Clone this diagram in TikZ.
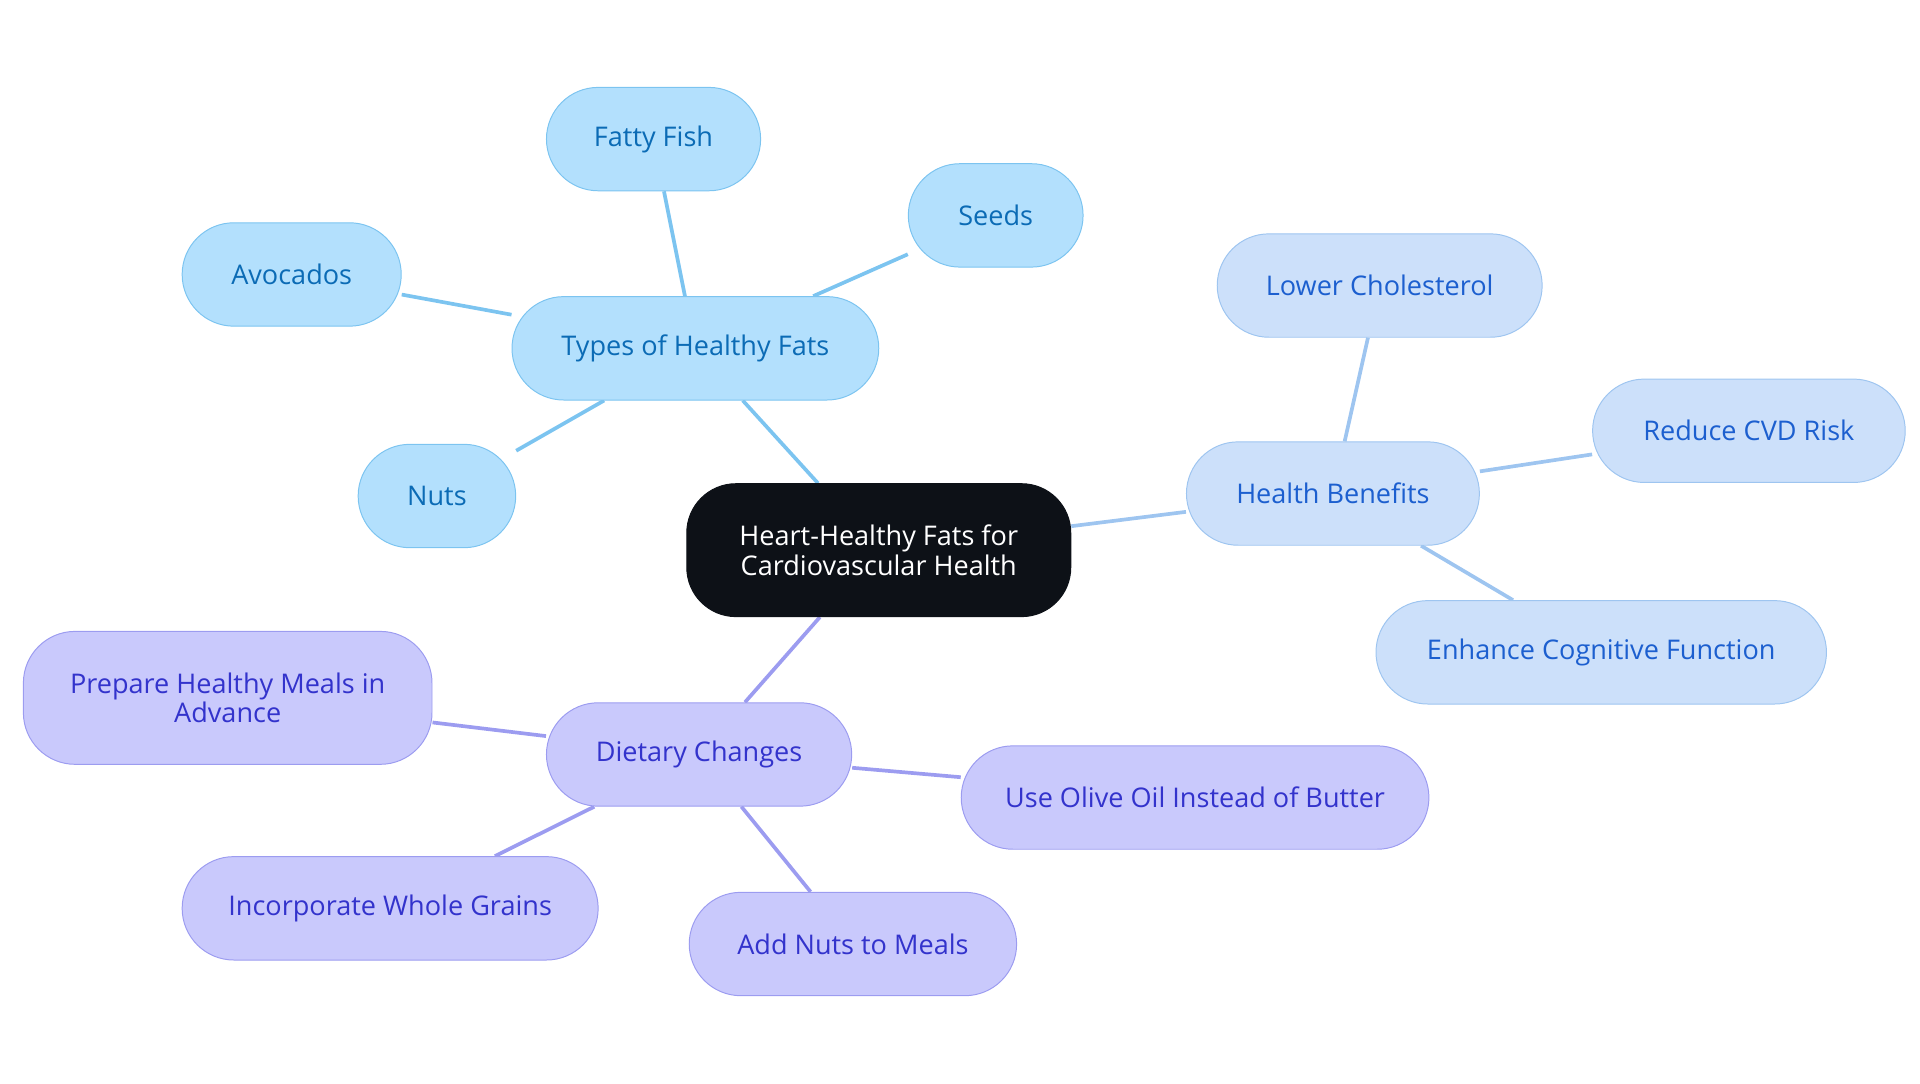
\documentclass[tikz,border=0pt]{standalone}
\usepackage{fontspec}
\setmainfont{Open Sans}
\usetikzlibrary{backgrounds}
\definecolor{rootfill}{HTML}{0D1117}
\definecolor{bluefill}{HTML}{B3E0FD}
\definecolor{bluedraw}{HTML}{7CC4F0}
\definecolor{bluetext}{HTML}{0B6BB5}
\definecolor{skyfill}{HTML}{CCE0FA}
\definecolor{skydraw}{HTML}{9EC5F0}
\definecolor{skytext}{HTML}{1C5FCF}
\definecolor{purpfill}{HTML}{C9C9FC}
\definecolor{purpdraw}{HTML}{9C9CF0}
\definecolor{purptext}{HTML}{3333CC}
\begin{document}
\begin{tikzpicture}[x=0.5pt,y=-0.5pt,
  main/.style = {rounded corners=21pt, minimum height=42pt, inner sep=2pt, align=center, font=\fontsize{11}{12}\selectfont},
  root/.style = {main, fill=rootfill, draw=rootfill, text=white, minimum height=54pt, rounded corners=20pt},
  fat/.style = {main, fill=bluefill, draw=bluedraw, text=bluetext},
  gain/.style = {main, fill=skyfill, draw=skydraw, text=skytext},
  diet/.style = {main, fill=purpfill, draw=purpdraw, text=purptext},
  link/.style = {line width=1.5pt}]
  \useasboundingbox (0,0) rectangle (1560,880);
  \node[root] (0) [minimum width=156pt] at (714,447) {Heart-Healthy Fats for\\Cardiovascular Health};
  \node[fat] (1) [minimum width=149pt] at (565,283) {Types of Healthy Fats};
  \node[fat] (2) [minimum width=87pt] at (531,113) {Fatty Fish};
  \node[fat] (3) [minimum width=71pt] at (809,175) {Seeds};
  \node[fat] (4) [minimum width=89pt] at (237,223) {Avocados};
  \node[fat] (5) [minimum width=64pt] at (355,403) {Nuts};
  \node[gain] (6) [minimum width=119pt] at (1083,401) {Health Benefits};
  \node[gain] (7) [minimum width=132pt] at (1121,232) {Lower Cholesterol};
  \node[gain] (8) [minimum width=127pt] at (1421,350) {Reduce CVD Risk};
  \node[gain] (9) [minimum width=183pt] at (1301,530) {Enhance Cognitive Function};
  \node[diet] (10) [minimum width=124pt] at (568,613) {Dietary Changes};
  \node[diet] (11) [minimum width=166pt, minimum height=54pt] at (185,567) {Prepare Healthy Meals in\\Advance};
  \node[diet] (12) [minimum width=190pt] at (971,648) {Use Olive Oil Instead of Butter};
  \node[diet] (13) [minimum width=169pt] at (317,738) {Incorporate Whole Grains};
  \node[diet] (14) [minimum width=133pt] at (693,767) {Add Nuts to Meals};
  \begin{scope}[on background layer]
    \draw[link, bluedraw] (0) -- (1);
    \draw[link, bluedraw] (1) -- (2);
    \draw[link, bluedraw] (1) -- (3);
    \draw[link, bluedraw] (1) -- (4);
    \draw[link, bluedraw] (1) -- (5);
    \draw[link, skydraw] (0) -- (6);
    \draw[link, skydraw] (6) -- (7);
    \draw[link, skydraw] (6) -- (8);
    \draw[link, skydraw] (6) -- (9);
    \draw[link, purpdraw] (0) -- (10);
    \draw[link, purpdraw] (10) -- (11);
    \draw[link, purpdraw] (10) -- (12);
    \draw[link, purpdraw] (10) -- (13);
    \draw[link, purpdraw] (10) -- (14);
  \end{scope}
\end{tikzpicture}
\end{document}
